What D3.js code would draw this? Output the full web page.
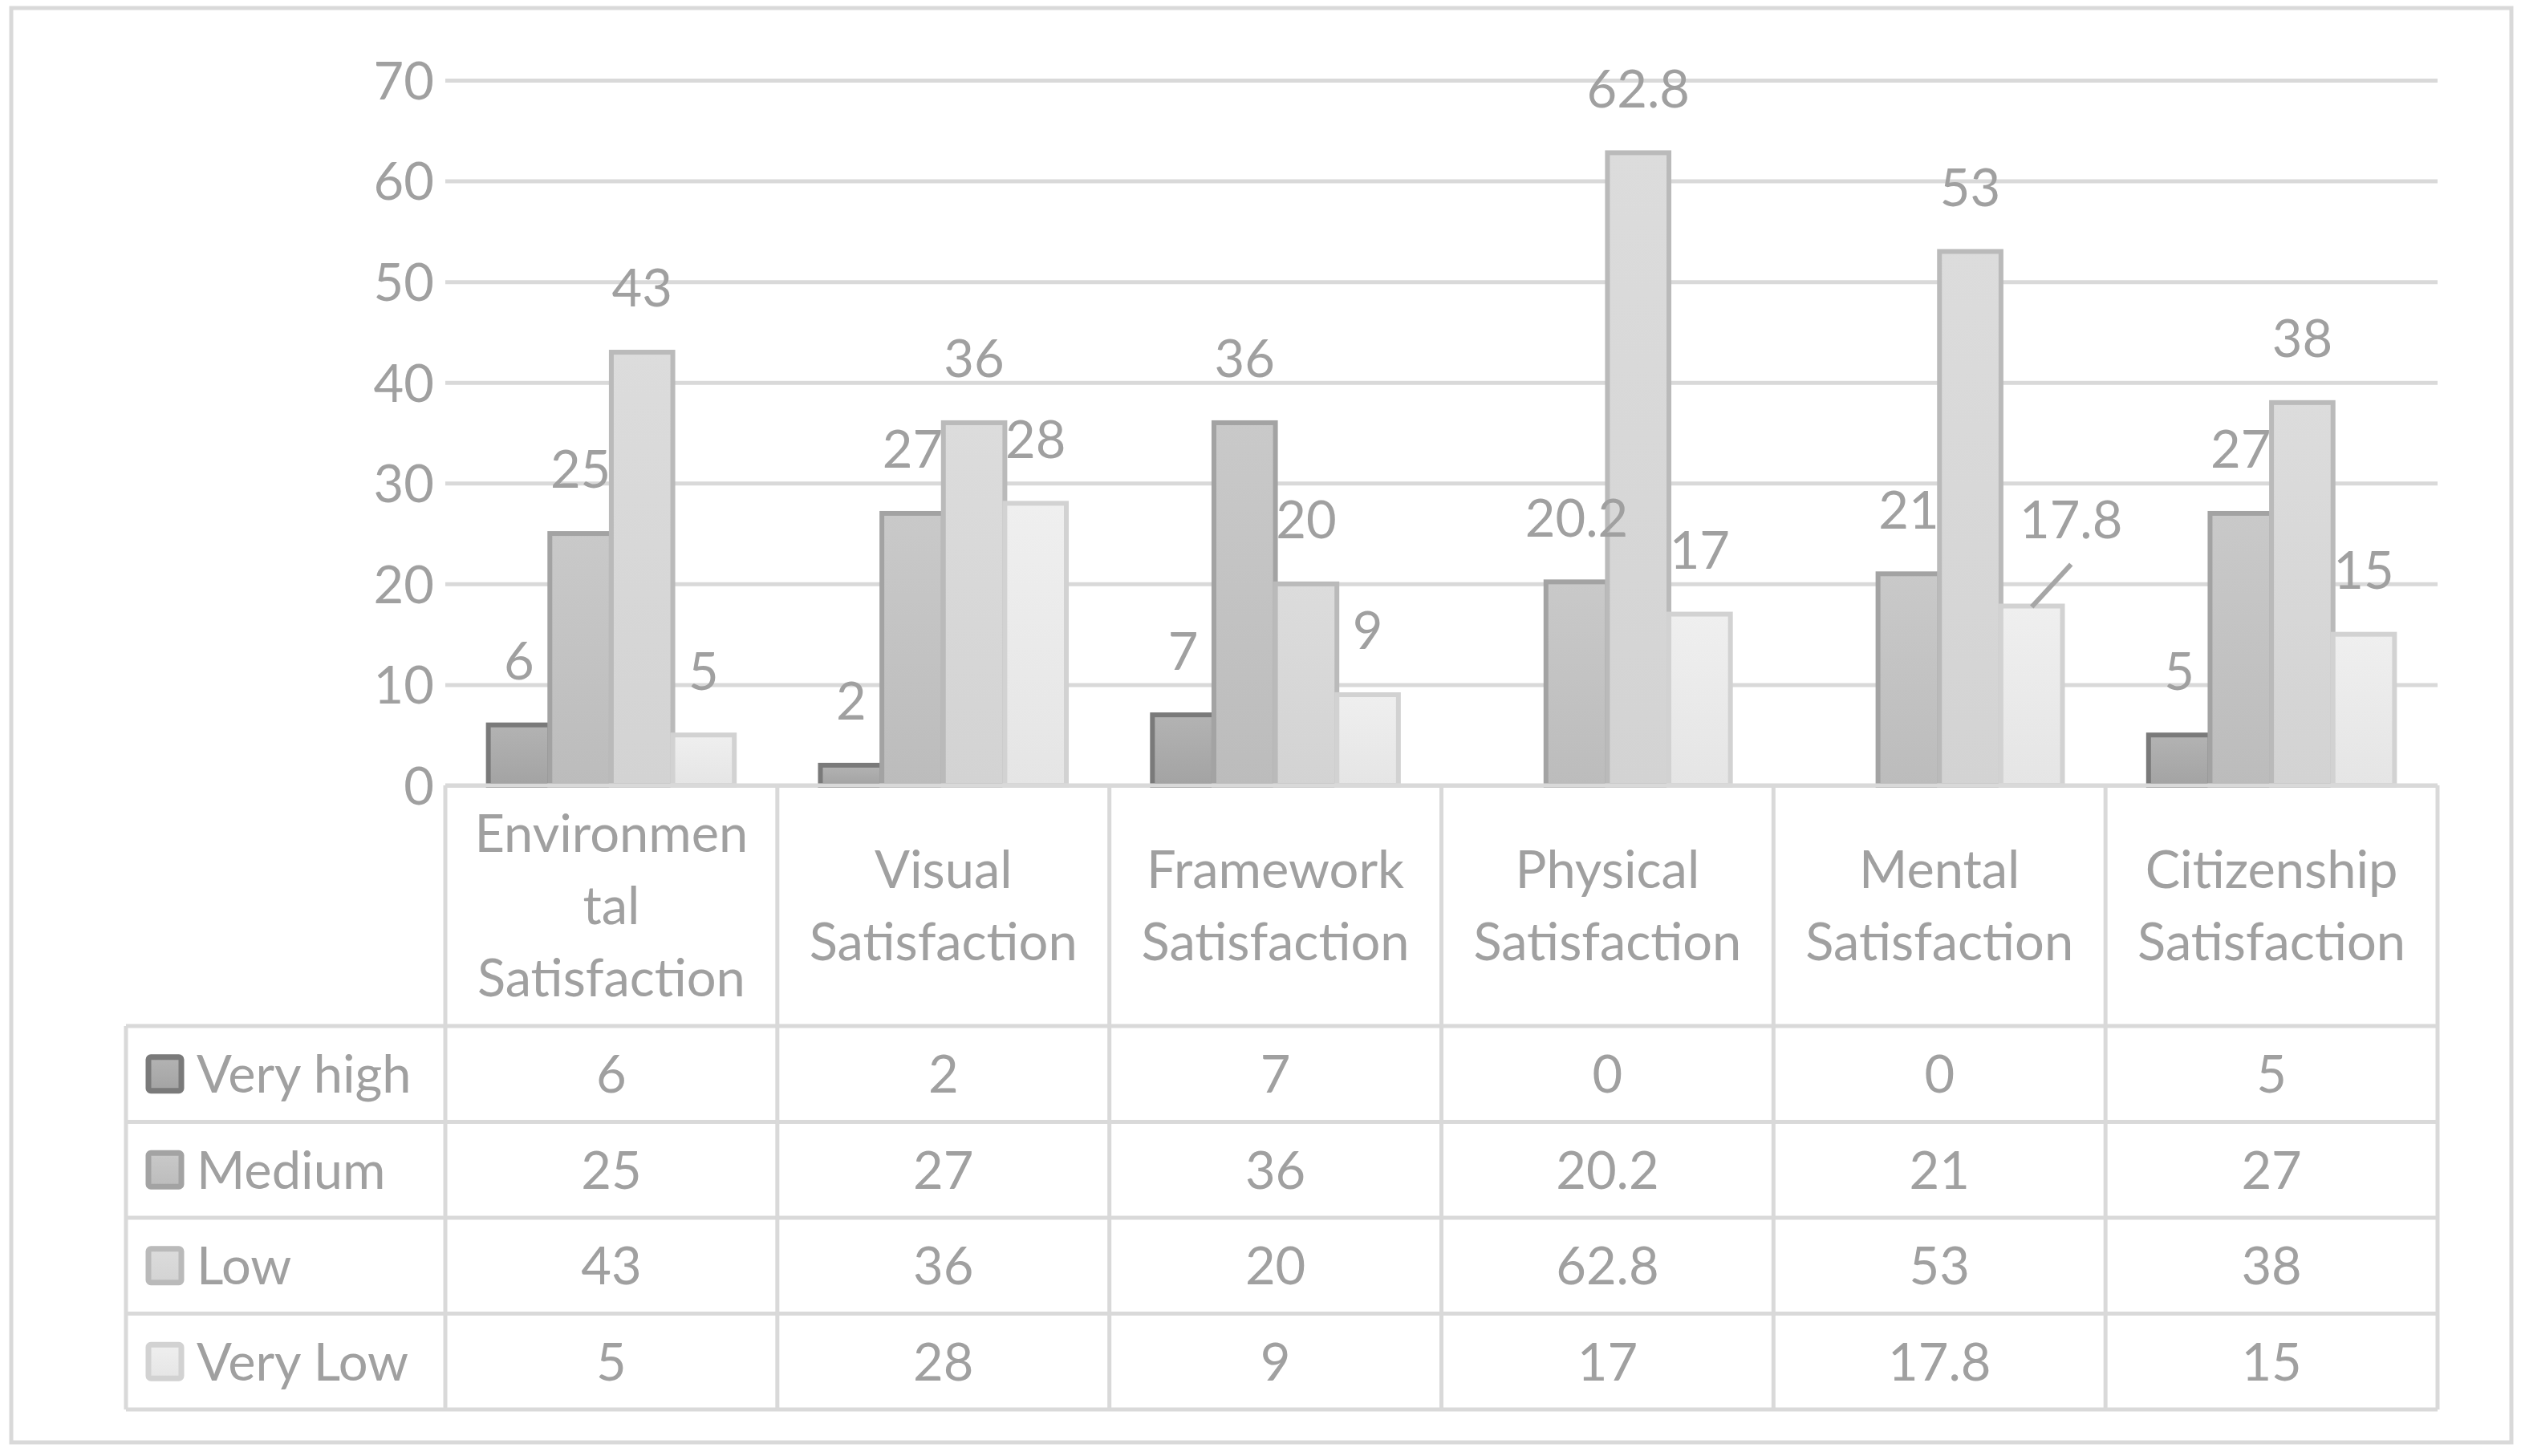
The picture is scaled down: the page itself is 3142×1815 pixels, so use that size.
<!DOCTYPE html>
<html>
<head>
<meta charset="utf-8">
<script src="https://cdn.jsdelivr.net/npm/d3@7"></script>
<style>
  body { margin: 0; background: #fff; }
  svg text { font-family: Lato, "Open Sans", sans-serif; fill: #a0a0a0; }
</style>
</head>
<body>
<svg id="chart"></svg>
<script>
const width = 3142
const height = 1815

// data
const categories = ["Environmental Satisfaction", "Visual Satisfaction", "Framework Satisfaction",
    "Physical Satisfaction", "Mental Satisfaction", "Citizenship Satisfaction"]
const categoryLines = [["Environmen", "tal", "Satisfaction"], ["Visual", "Satisfaction"], ["Framework", "Satisfaction"],
    ["Physical", "Satisfaction"], ["Mental", "Satisfaction"], ["Citizenship", "Satisfaction"]]
const seriesNames = ["Very high", "Medium", "Low", "Very Low"]
const veryHigh = [6, 2, 7, 0, 0, 5]
const medium = [25, 27, 36, 20.2, 21, 27]
const low = [43, 36, 20, 62.8, 53, 38]
const veryLow = [5, 28, 9, 17, 17.8, 15]
const yTicks = [0, 10, 20, 30, 40, 50, 60, 70]

const seriesValues = [veryHigh, medium, low, veryLow]

// look of each series: gradient top, gradient bottom, outline
const seriesStyle = [
    {top: "#b3b3b3", bottom: "#a3a3a3", stroke: "#7a7a7a"},
    {top: "#c9c9c9", bottom: "#bcbcbc", stroke: "#a3a3a3"},
    {top: "#dcdcdc", bottom: "#d3d3d3", stroke: "#bababa"},
    {top: "#efefef", bottom: "#e5e5e5", stroke: "#d2d2d2"}
]

// the one label Excel pushed aside, with its leader line
const labelNudge = {"4-3": [49, -28]}

const fontSize = 65
const gridColour = "#d9d9d9"

const svg = d3.select("#chart")
    .attr("width", width)
    .attr("height", height)

svg.append("rect")
    .attr("x", 14).attr("y", 10)
    .attr("width", 3116).attr("height", 1788)
    .attr("fill", "#fff")
    .attr("stroke", gridColour)
    .attr("stroke-width", 5)

const plot = {left: 555, right: 3038, top: 100, bottom: 979}

const x = d3.scaleBand()
    .domain(categories)
    .range([plot.left, plot.right])

// excel gap width about 140% of a bar
const gap = 1.4
const barW = x.bandwidth() / (seriesNames.length + gap)
const xs = d3.scaleBand()
    .domain(seriesNames)
    .range([barW * gap / 2, barW * gap / 2 + barW * seriesNames.length])

const y = d3.scaleLinear()
    .domain([0, 70])
    .range([plot.bottom, plot.top])

const defs = svg.append("defs")
seriesStyle.forEach((s, i) => {
    const g = defs.append("linearGradient")
        .attr("id", "grad" + i)
        .attr("x1", 0).attr("y1", 0).attr("x2", 0).attr("y2", 1)
    g.append("stop").attr("offset", "0%").attr("stop-color", s.top)
    g.append("stop").attr("offset", "100%").attr("stop-color", s.bottom)
})

// gridlines and y labels
const yAxis = svg.append("g")
    .attr("transform", `translate(${plot.left},0)`)
    .call(d3.axisLeft(y).tickValues(yTicks).tickSize(-(plot.right - plot.left)).tickPadding(14))
yAxis.select(".domain").remove()
yAxis.selectAll(".tick line")
    .attr("stroke", gridColour)
    .attr("stroke-width", 5)
yAxis.selectAll(".tick text")
    .attr("font-size", fontSize)
    .attr("fill", "#a0a0a0")
    .attr("dy", "0.36em")
    .style("font-family", "Lato")

// bars
const bars = []
categories.forEach((c, ci) => {
    seriesNames.forEach((s, si) => {
        bars.push({cat: c, ci: ci, series: s, si: si, value: seriesValues[si][ci]})
    })
})

const barG = svg.append("g")
barG.selectAll("rect")
    .data(bars.filter(d => d.value > 0))
    .join("rect")
    .attr("x", d => x(d.cat) + xs(d.series))
    .attr("y", d => y(d.value))
    .attr("width", barW)
    .attr("height", d => y(0) - y(d.value))
    .attr("fill", d => `url(#grad${d.si})`)
    .attr("stroke", d => seriesStyle[d.si].stroke)
    .attr("stroke-width", 6)

// table lines
const rowTop = 979
const headerBottom = 1279
const rowH = (1757 - headerBottom) / seriesNames.length
const tableLeft = 157
const lines = svg.append("g")
    .attr("stroke", gridColour)
    .attr("stroke-width", 5)

lines.append("line")
    .attr("x1", plot.left).attr("x2", plot.right)
    .attr("y1", rowTop).attr("y2", rowTop)

d3.range(seriesNames.length + 1).forEach(i => {
    lines.append("line")
        .attr("x1", tableLeft).attr("x2", plot.right)
        .attr("y1", headerBottom + i * rowH).attr("y2", headerBottom + i * rowH)
})

const colEdges = categories.map(c => x(c)).concat([plot.right])
colEdges.forEach(cx => {
    lines.append("line")
        .attr("x1", cx).attr("x2", cx)
        .attr("y1", rowTop).attr("y2", headerBottom + seriesNames.length * rowH)
})
lines.append("line")
    .attr("x1", tableLeft).attr("x2", tableLeft)
    .attr("y1", headerBottom).attr("y2", headerBottom + seriesNames.length * rowH)

// category headers
const lineGap = 90
const headG = svg.append("g")
categoryLines.forEach((ls, ci) => {
    const cx = x(categories[ci]) + x.bandwidth() / 2
    const cy = (rowTop + headerBottom) / 2
    ls.forEach((t, li) => {
        headG.append("text")
            .attr("x", cx)
            .attr("y", cy + (li - (ls.length - 1) / 2) * lineGap)
            .attr("dy", "0.36em")
            .attr("text-anchor", "middle")
            .attr("font-size", fontSize)
            .text(t)
    })
})

// legend keys + values
const tableG = svg.append("g")
seriesNames.forEach((s, si) => {
    const cy = headerBottom + si * rowH + rowH / 2
    tableG.append("rect")
        .attr("x", 185).attr("y", cy - 21)
        .attr("width", 41).attr("height", 42)
        .attr("rx", 3)
        .attr("fill", `url(#grad${si})`)
        .attr("stroke", seriesStyle[si].stroke)
        .attr("stroke-width", 7)
    tableG.append("text")
        .attr("x", 245).attr("y", cy)
        .attr("dy", "0.36em")
        .attr("font-size", fontSize)
        .text(s)
    categories.forEach((c, ci) => {
        tableG.append("text")
            .attr("x", x(c) + x.bandwidth() / 2)
            .attr("y", cy)
            .attr("dy", "0.36em")
            .attr("text-anchor", "middle")
            .attr("font-size", fontSize)
            .text(seriesValues[si][ci])
    })
})

// data labels on top of everything
const labG = svg.append("g")
bars.filter(d => d.value > 0).forEach(d => {
    const bx = x(d.cat) + xs(d.series) + barW / 2
    const by = y(d.value)
    const nudge = labelNudge[d.ci + "-" + d.si] || [0, 0]
    const lx = bx + nudge[0]
    const ly = by - 80 + nudge[1]
    if (nudge[0] !== 0) {
        labG.append("line")
            .attr("x1", bx).attr("y1", by + 1)
            .attr("x2", lx).attr("y2", ly + 56)
            .attr("stroke", "#a6a6a6")
            .attr("stroke-width", 6)
    }
    labG.append("text")
        .attr("x", lx)
        .attr("y", ly)
        .attr("dy", "0.36em")
        .attr("text-anchor", "middle")
        .attr("font-size", fontSize)
        .text(d.value)
})
</script>
</body>
</html>
